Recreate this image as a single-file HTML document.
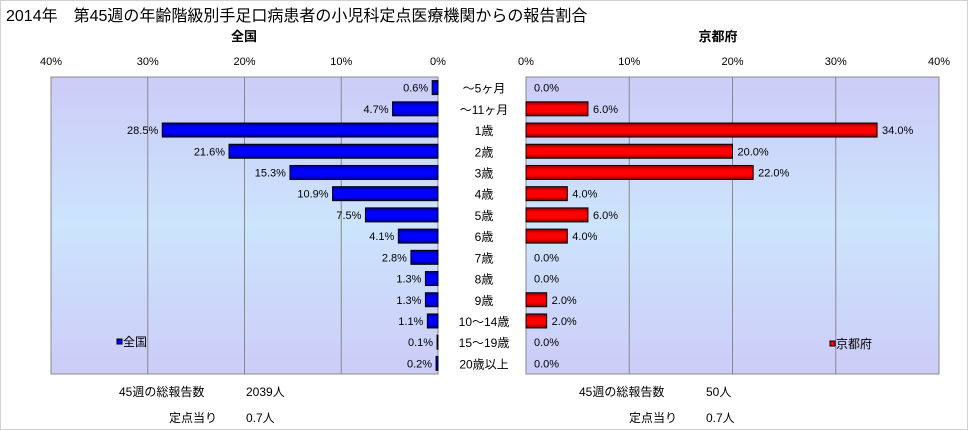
<!DOCTYPE html>
<html><head><meta charset="utf-8">
<style>
body{margin:0;background:#fff;}
#wrap{position:relative;width:966px;height:428px;border:1px solid #d0d0d0;overflow:hidden;font-family:"Liberation Sans","Noto Sans CJK JP",sans-serif;}
svg text{font-family:"Liberation Sans","Noto Sans CJK JP",sans-serif;}
</style></head>
<body>
<div id="wrap">
<svg id="chart" width="966" height="428"></svg>
</div>
<script>
const categories=["～5ヶ月","～11ヶ月","1歳","2歳","3歳","4歳","5歳","6歳","7歳","8歳","9歳","10～14歳","15～19歳","20歳以上"];
const nationalValues=[0.6,4.7,28.5,21.6,15.3,10.9,7.5,4.1,2.8,1.3,1.3,1.1,0.1,0.2];
const kyotoValues=[0,6,34,20,22,4,6,4,0,0,2,2,0,0];
const tickValues=[0,10,20,30,40];
const tickLabels=["0%","10%","20%","30%","40%"];

const NS="http://www.w3.org/2000/svg";
const svgRoot=document.getElementById('chart');
function mk(tag,attrs,parent){const e=document.createElementNS(NS,tag);for(const k in attrs)e.setAttribute(k,attrs[k]);(parent||svgRoot).appendChild(e);return e;}
function txt(x,y,s,size,anchor,name,weight){const t=mk('text',{x:x,y:y,'font-size':size,'text-anchor':anchor||'start',fill:'#000','font-weight':weight||'normal'});t.textContent=s;


return t;}

const defs=mk('defs',{});
function grad(id,stops){const g=mk('linearGradient',{id:id,x1:0,y1:0,x2:0,y2:1},defs);stops.forEach(s=>mk('stop',{offset:s[0],'stop-color':s[1]},g));}
grad('bg',[[0,'#ccccf8'],[0.5,'#cce4fc'],[1,'#ccccf8']]);
grad('blue',[[0,'#000088'],[0.3,'#0000ff'],[0.7,'#0000ff'],[1,'#000088']]);
grad('red',[[0,'#880000'],[0.3,'#ff0000'],[0.7,'#ff0000'],[1,'#880000']]);

const plotTop=76,plotBottom=373,rowH=(plotBottom-plotTop)/categories.length,barH=14;
const LS={zero:437,full:50};
const RS={zero:525,full:938};
const xL=v=>LS.zero-(LS.zero-LS.full)*v/40;
const xR=v=>RS.zero+(RS.full-RS.zero)*v/40;
const yC=i=>plotTop+rowH*(i+0.5);

txt(5,20,"2014年　第45週の年齢階級別手足口病患者の小児科定点医療機関からの報告割合",16,'start','chart-title');
txt(243,40,"全国",13,'middle','national-title','bold');
txt(717,40,"京都府",13,'middle','kyoto-title','bold');

function panel(side,sx,vals,fill,name){
  const x0=Math.min(side.zero,side.full),x1=Math.max(side.zero,side.full);
  const bg=mk('rect',{x:x0,y:plotTop,width:x1-x0,height:plotBottom-plotTop,fill:'url(#bg)',stroke:'#888','stroke-width':1});
  
  
  tickValues.forEach((v,i)=>{const x=sx(v);
    const l=mk('line',{x1:x,x2:x,y1:plotTop,y2:plotBottom,stroke:'#888','stroke-width':1});
    
    
    txt(x,64,tickLabels[i],11,'middle',name+'-tick-label');});
  vals.forEach((v,i)=>{const y=yC(i);const xa=sx(0),xb=sx(v);
    if(v>0){const r=mk('rect',{x:Math.min(xa,xb),y:y-barH/2,width:Math.abs(xb-xa),height:barH,fill:fill,stroke:'#000','stroke-width':1});
      
      }
    const lbl=v.toFixed(1)+"%";
    if(side===LS) txt(xb-4,y+4,lbl,11,'end',name+'-value-label');
    else txt((v>0?xb+5:RS.zero+8),y+4,lbl,11,'start',name+'-value-label');
  });
}
panel(LS,xL,nationalValues,'url(#blue)','national');
panel(RS,xR,kyotoValues,'url(#red)','kyoto');
categories.forEach((c,i)=>txt(483,yC(i)+5,c,12,'middle','category-label'));

let lg=mk('rect',{x:116,y:338,width:5,height:5,fill:'#0000ff',stroke:'#000'});


txt(122,345,"全国",12,'start','national-legend-label');
lg=mk('rect',{x:829,y:340,width:5,height:5,fill:'#ff0000',stroke:'#000'});


txt(835,347,"京都府",12,'start','kyoto-legend-label');

txt(118,395,"45週の総報告数",12,'start','national-total-label');
txt(245,395,"2039人",12,'start','national-total-value');
txt(168,421,"定点当り",12,'start','national-per-site-label');
txt(245,421,"0.7人",12,'start','national-per-site-value');
txt(578,395,"45週の総報告数",12,'start','kyoto-total-label');
txt(705,395,"50人",12,'start','kyoto-total-value');
txt(628,421,"定点当り",12,'start','kyoto-per-site-label');
txt(705,421,"0.7人",12,'start','kyoto-per-site-value');
</script>
</body></html>
